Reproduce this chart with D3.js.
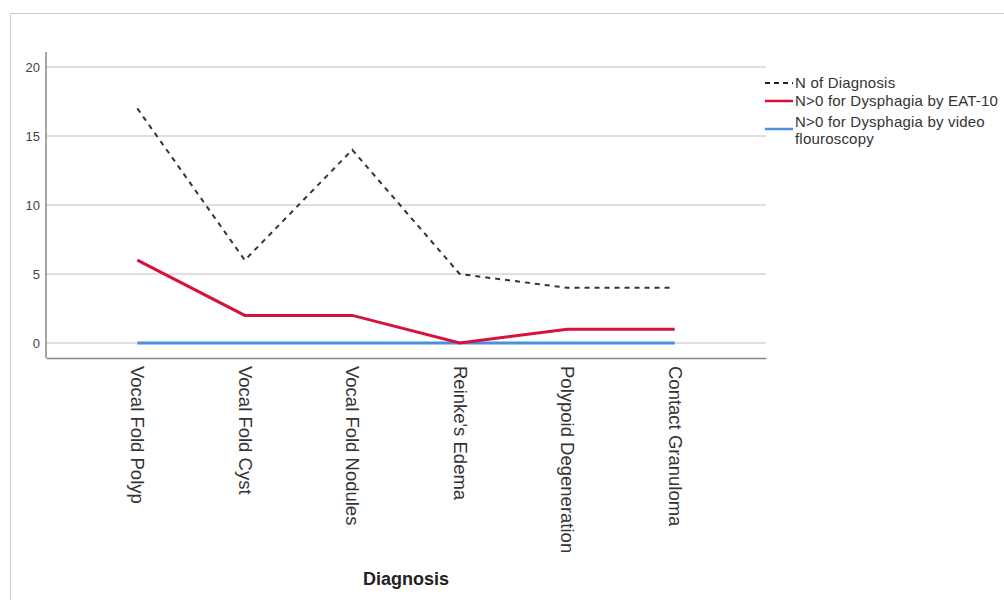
<!DOCTYPE html>
<html>
<head>
<meta charset="utf-8">
<script src="https://cdn.jsdelivr.net/npm/d3@7"></script>
<style>
  body { margin: 0; background: #fff; }
  text { font-family: "Liberation Sans", Arial, sans-serif; }
</style>
</head>
<body>
<div id="chart"></div>
<script>
// data
const diagnoses = ["Vocal Fold Polyp", "Vocal Fold Cyst", "Vocal Fold Nodules", "Reinke's Edema", "Polypoid Degeneration", "Contact Granuloma"];
const nDiagnosis = [17, 6, 14, 5, 4, 4];
const eat10 = [6, 2, 2, 0, 1, 1];
const videoFluoro = [0, 0, 0, 0, 0, 0];
const yTicks = [0, 5, 10, 15, 20];

const width = 1004, height = 600;

const svg = d3.select("#chart")
    .append("svg")
    .attr("width", width)
    .attr("height", height);

// outer frame
svg.append("path")
    .attr("d", "M10.5," + height + "V13.5H" + width)
    .attr("fill", "none")
    .attr("stroke", "#c8c8c8")
    .attr("stroke-width", 1);

let plotLeft = 46, plotRight = 766, plotBottom = 358, plotTop = 52;

let x = d3.scalePoint()
    .domain(diagnoses)
    .range([plotLeft, plotRight])
    .padding(0.85);

let y = d3.scaleLinear()
    .domain([0, 20])
    .range([343, 67]);

// gridlines
svg.append("g")
    .selectAll("line")
    .data(yTicks)
    .join("line")
    .attr("x1", plotLeft)
    .attr("x2", plotRight)
    .attr("y1", d => y(d))
    .attr("y2", d => y(d))
    .attr("stroke", "#d4d4d4")
    .attr("stroke-width", 1.5);

// y axis
let yAxis = d3.axisLeft(y).tickValues(yTicks).tickSize(0).tickPadding(6);
let gy = svg.append("g")
    .attr("transform", "translate(" + plotLeft + ",0)")
    .call(yAxis);
gy.select(".domain").remove();
gy.selectAll("text")
    .style("font-size", "13px")
    .style("fill", "#444")
    .attr("font-family", "Liberation Sans, Arial, sans-serif");

svg.append("line")
    .attr("x1", plotLeft).attr("x2", plotLeft)
    .attr("y1", plotTop).attr("y2", plotBottom)
    .attr("stroke", "#888")
    .attr("stroke-width", 1.5);

// x axis
let xAxis = d3.axisBottom(x).tickSize(0).tickPadding(0);
let gx = svg.append("g")
    .attr("transform", "translate(0," + plotBottom + ")")
    .call(xAxis);
gx.select(".domain")
    .attr("stroke", "#888")
    .attr("stroke-width", 1.5);
gx.selectAll("text")
    .attr("transform", "translate(0,8) rotate(90)")
    .attr("text-anchor", "start")
    .attr("dy", "0.35em")
    .attr("y", 0)
    .attr("x", 0)
    .style("font-size", "18.5px")
    .style("fill", "#333")
    .attr("font-family", "Liberation Sans, Arial, sans-serif");

svg.append("text")
    .attr("x", 406)
    .attr("y", 585)
    .attr("text-anchor", "middle")
    .text("Diagnosis")
    .style("font-size", "18px")
    .style("font-weight", "bold")
    .style("fill", "#222");

// lines
let line = d3.line()
    .x((d, i) => x(diagnoses[i]))
    .y(d => y(d));

svg.append("path")
    .datum(videoFluoro)
    .attr("fill", "none")
    .attr("stroke", "#4a90e2")
    .attr("stroke-width", 3)
    .attr("d", line);

svg.append("path")
    .datum(eat10)
    .attr("fill", "none")
    .attr("stroke", "#d6123c")
    .attr("stroke-width", 3)
    .attr("d", line);

svg.append("path")
    .datum(nDiagnosis)
    .attr("fill", "none")
    .attr("stroke", "#333")
    .attr("stroke-width", 2)
    .style("stroke-dasharray", "5,5")
    .attr("d", line);

// legend
let legend = [
    {label: ["N of Diagnosis"], color: "#222", width: 2, dash: "5,4", ly: 83},
    {label: ["N>0 for Dysphagia by EAT-10"], color: "#d6123c", width: 2.5, dash: null, ly: 101},
    {label: ["N>0 for Dysphagia by video", "flouroscopy"], color: "#4a90e2", width: 2.5, dash: null, ly: 129}
];
let textY = [83, 101, 122];

legend.forEach((d, i) => {
    svg.append("line")
        .attr("x1", 765).attr("x2", 793)
        .attr("y1", d.ly).attr("y2", d.ly)
        .attr("stroke", d.color)
        .attr("stroke-width", d.width)
        .style("stroke-dasharray", d.dash);
    let t = svg.append("text")
        .attr("x", 795)
        .attr("y", textY[i])
        .style("font-size", "15px")
        .style("letter-spacing", "0.2px")
        .style("fill", "#333");
    d.label.forEach((s, j) => {
        t.append("tspan")
            .attr("x", 795)
            .attr("dy", j === 0 ? "0.35em" : "1.1em")
            .text(s);
    });
});
</script>
</body>
</html>
